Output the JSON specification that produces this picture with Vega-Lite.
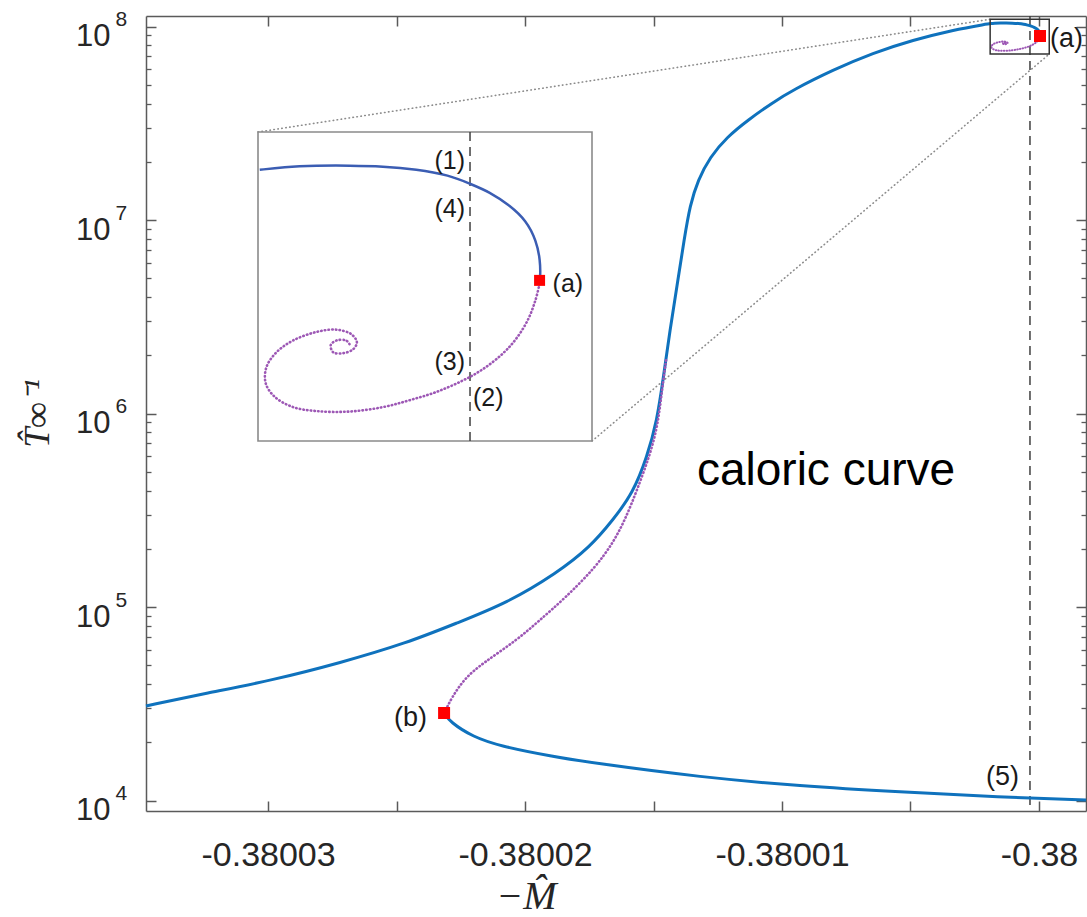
{
  "$schema": "https://vega.github.io/schema/vega-lite/v6.json",
  "width": 940,
  "height": 795,
  "autosize": {"type": "none"},
  "padding": {"left": 146, "top": 16, "right": 1, "bottom": 106},
  "background": "white",
  "config": {"view": {"stroke": null}, "font": "Liberation Sans"},
  "datasets": {
    "curves": [
      {"branch":"stable","i":0,"M":-0.38003475,"T":30800},
      {"branch":"stable","i":1,"M":-0.38003237,"T":35900},
      {"branch":"stable","i":2,"M":-0.38002981,"T":41900},
      {"branch":"stable","i":3,"M":-0.3800272,"T":51400},
      {"branch":"stable","i":4,"M":-0.38002459,"T":65200},
      {"branch":"stable","i":5,"M":-0.38002265,"T":82700},
      {"branch":"stable","i":6,"M":-0.3800207,"T":104900},
      {"branch":"stable","i":7,"M":-0.38001876,"T":149800},
      {"branch":"stable","i":8,"M":-0.38001747,"T":204000},
      {"branch":"stable","i":9,"M":-0.38001658,"T":281600},
      {"branch":"stable","i":10,"M":-0.3800158,"T":388000},
      {"branch":"stable","i":11,"M":-0.38001525,"T":596000},
      {"branch":"stable","i":12,"M":-0.38001486,"T":926000},
      {"branch":"stable","i":13,"M":-0.38001463,"T":1490000},
      {"branch":"stable","i":14,"M":-0.38001436,"T":2700000},
      {"branch":"stable","i":15,"M":-0.38001405,"T":4900000},
      {"branch":"stable","i":16,"M":-0.38001381,"T":7880000},
      {"branch":"stable","i":17,"M":-0.38001358,"T":11960000},
      {"branch":"stable","i":18,"M":-0.38001327,"T":16090000},
      {"branch":"stable","i":19,"M":-0.3800128,"T":21170000},
      {"branch":"stable","i":20,"M":-0.38001214,"T":26850000},
      {"branch":"stable","i":21,"M":-0.38001132,"T":32880000},
      {"branch":"stable","i":22,"M":-0.38001039,"T":40240000},
      {"branch":"stable","i":23,"M":-0.38000957,"T":47000000},
      {"branch":"stable","i":24,"M":-0.38000802,"T":59600000},
      {"branch":"stable","i":25,"M":-0.38000646,"T":73000000},
      {"branch":"stable","i":26,"M":-0.3800049,"T":85100000},
      {"branch":"stable","i":27,"M":-0.38000335,"T":95900000},
      {"branch":"stable","i":28,"M":-0.38000202,"T":103000000},
      {"branch":"stable","i":29,"M":-0.380001888,"T":103600000},
      {"branch":"stable","i":30,"M":-0.380001727,"T":104000000},
      {"branch":"stable","i":31,"M":-0.380001497,"T":104200000},
      {"branch":"stable","i":32,"M":-0.38000127,"T":104200000},
      {"branch":"stable","i":33,"M":-0.38000104,"T":104100000},
      {"branch":"stable","i":34,"M":-0.38000081,"T":103700000},
      {"branch":"stable","i":35,"M":-0.38000058,"T":102850000},
      {"branch":"stable","i":36,"M":-0.380000442,"T":101700000},
      {"branch":"stable","i":37,"M":-0.380000304,"T":100570000},
      {"branch":"stable","i":38,"M":-0.380000168,"T":98790000},
      {"branch":"stable","i":39,"M":-0.380000053,"T":96800000},
      {"branch":"stable","i":40,"M":-0.379999984,"T":94230000},
      {"branch":"stable","i":41,"M":-0.379999956,"T":91760000},
      {"branch":"stable","i":42,"M":-0.379999956,"T":89730000},
      {"branch":"stable","i":43,"M":-0.379999961,"T":89320000},
      {"branch":"lower","i":0,"M":-0.38002315,"T":28330},
      {"branch":"lower","i":1,"M":-0.38002292,"T":25450},
      {"branch":"lower","i":2,"M":-0.38002202,"T":21290},
      {"branch":"lower","i":3,"M":-0.38002097,"T":19120},
      {"branch":"lower","i":4,"M":-0.38001903,"T":16980},
      {"branch":"lower","i":5,"M":-0.38001708,"T":15440},
      {"branch":"lower","i":6,"M":-0.38001319,"T":13220},
      {"branch":"lower","i":7,"M":-0.3800093,"T":11880},
      {"branch":"lower","i":8,"M":-0.38000541,"T":11060},
      {"branch":"lower","i":9,"M":-0.38000152,"T":10420},
      {"branch":"lower","i":10,"M":-0.37999817,"T":10060},
      {"branch":"unstable","i":0,"M":-0.38002315,"T":28330},
      {"branch":"unstable","i":1,"M":-0.38002284,"T":34260},
      {"branch":"unstable","i":2,"M":-0.38002234,"T":42970},
      {"branch":"unstable","i":3,"M":-0.38002163,"T":51400},
      {"branch":"unstable","i":4,"M":-0.38002031,"T":67500},
      {"branch":"unstable","i":5,"M":-0.38001942,"T":85700},
      {"branch":"unstable","i":6,"M":-0.38001844,"T":111300},
      {"branch":"unstable","i":7,"M":-0.38001728,"T":159100},
      {"branch":"unstable","i":8,"M":-0.38001658,"T":214100},
      {"branch":"unstable","i":9,"M":-0.38001611,"T":281600},
      {"branch":"unstable","i":10,"M":-0.38001564,"T":402400},
      {"branch":"unstable","i":11,"M":-0.38001514,"T":610000},
      {"branch":"unstable","i":12,"M":-0.38001483,"T":872000},
      {"branch":"unstable","i":13,"M":-0.38001467,"T":1322000},
      {"branch":"unstable","i":14,"M":-0.38001451,"T":1890000},
      {"branch":"spiral","i":0,"M":-0.379999961,"T":88900000},
      {"branch":"spiral","i":1,"M":-0.379999989,"T":87000000},
      {"branch":"spiral","i":2,"M":-0.380000042,"T":84700000},
      {"branch":"spiral","i":3,"M":-0.380000122,"T":82600000},
      {"branch":"spiral","i":4,"M":-0.380000212,"T":81000000},
      {"branch":"spiral","i":5,"M":-0.38000035,"T":79300000},
      {"branch":"spiral","i":6,"M":-0.380000488,"T":78100000},
      {"branch":"spiral","i":7,"M":-0.380000672,"T":76900000},
      {"branch":"spiral","i":8,"M":-0.380000856,"T":76050000},
      {"branch":"spiral","i":9,"M":-0.38000104,"T":75350000},
      {"branch":"spiral","i":10,"M":-0.38000127,"T":74900000},
      {"branch":"spiral","i":11,"M":-0.380001497,"T":74950000},
      {"branch":"spiral","i":12,"M":-0.380001658,"T":75350000},
      {"branch":"spiral","i":13,"M":-0.380001785,"T":76400000},
      {"branch":"spiral","i":14,"M":-0.380001847,"T":77800000},
      {"branch":"spiral","i":15,"M":-0.380001842,"T":79500000},
      {"branch":"spiral","i":16,"M":-0.380001773,"T":81100000},
      {"branch":"spiral","i":17,"M":-0.380001658,"T":82400000},
      {"branch":"spiral","i":18,"M":-0.380001497,"T":83350000},
      {"branch":"spiral","i":19,"M":-0.380001359,"T":83600000},
      {"branch":"spiral","i":20,"M":-0.380001258,"T":83100000},
      {"branch":"spiral","i":21,"M":-0.380001219,"T":82200000},
      {"branch":"spiral","i":22,"M":-0.380001247,"T":81400000},
      {"branch":"spiral","i":23,"M":-0.380001316,"T":81000000},
      {"branch":"spiral","i":24,"M":-0.380001382,"T":81100000},
      {"branch":"spiral","i":25,"M":-0.380001399,"T":81900000},
      {"branch":"spiral","i":26,"M":-0.380001359,"T":82400000},
      {"branch":"spiral","i":27,"M":-0.380001293,"T":82400000},
      {"branch":"spiral","i":28,"M":-0.38000127,"T":82000000}
    ],
    "points": [
      {"label":"(a)","M":-0.379999961,"T":89320000},
      {"label":"(b)","M":-0.38002315,"T":28330}
    ],
    "box": [
      {"M":-0.3800019,"M2":-0.3799996,"T":72000000,"T2":109000000}
    ],
    "connectors": [
      {"conn":1,"M":-0.38003039,"T":28500000},
      {"conn":1,"M":-0.3800019,"T":109000000},
      {"conn":2,"M":-0.38001739,"T":721000},
      {"conn":2,"M":-0.3799996,"T":72000000}
    ]
  },
  "layer": [
    {
      "resolve": {"axis": {"x": "independent", "y": "independent"}},
      "layer": [
        {
          "data": {"values": [{"M": -0.38000035}]},
          "mark": {"type": "rule", "color": "#404040", "strokeWidth": 1.5, "strokeDash": [9, 6]},
          "encoding": {
            "x": {"field": "M", "type": "quantitative", "scale": {"domain": [-0.38003475, -0.37999817], "nice": false, "zero": false}, "axis": null}
          }
        },
        {
          "data": {"name": "connectors"},
          "mark": {"type": "line", "color": "#8c8c8c", "strokeWidth": 1.6, "strokeDash": [0.5, 3.5], "strokeCap": "round"},
          "encoding": {
            "x": {"field": "M", "type": "quantitative", "scale": {"domain": [-0.38003475, -0.37999817], "nice": false, "zero": false}, "axis": null},
            "y": {"field": "T", "type": "quantitative", "scale": {"type": "log", "domain": [8826, 113320000], "nice": false},
              "axis": {"orient": "left", "values": [10000, 100000, 1000000, 10000000, 100000000], "ticks": false, "domain": false, "grid": false,
                "labelExpr": "'10'", "labelFont": "Liberation Sans", "labelFontSize": 31, "labelColor": "#262626", "labelPadding": 36, "labelOffset": 10, "labelOverlap": false,
                "title": "T̂∞⁻¹", "titleFont": "Liberation Serif", "titleFontStyle": "italic", "titleFontWeight": "normal", "titleFontSize": 36, "titleColor": "#262626",
                "titleX": -109, "titleY": 397, "titleAngle": 270, "titleAlign": "center", "titleBaseline": "middle"}},
            "detail": {"field": "conn", "type": "nominal"}
          }
        },
        {
          "data": {"name": "curves"},
          "transform": [{"filter": "datum.branch === 'stable'"}],
          "mark": {"type": "line", "color": "#0f72bd", "strokeWidth": 3, "interpolate": "basis"},
          "encoding": {
            "x": {"field": "M", "type": "quantitative", "scale": {"domain": [-0.38003475, -0.37999817], "nice": false, "zero": false},
              "axis": {"orient": "bottom", "values": [-0.38003, -0.380025, -0.38002, -0.380015, -0.38001, -0.380005, -0.38], "labels": false, "tickSize": -10, "tickWidth": 1.5, "tickColor": "#5a5a5a", "domainColor": "#5a5a5a", "domainWidth": 1.5, "grid": false, "title": null}},
            "y": {"field": "T", "type": "quantitative", "scale": {"type": "log", "domain": [8826, 113320000], "nice": false},
              "axis": {"orient": "left", "values": [10000, 100000, 1000000, 10000000, 100000000], "labels": false, "tickSize": -10, "tickWidth": 1.5, "tickColor": "#5a5a5a", "domainColor": "#5a5a5a", "domainWidth": 1.5, "grid": false, "title": null}},
            "order": {"field": "i", "type": "quantitative"}
          }
        },
        {
          "data": {"name": "curves"},
          "transform": [{"filter": "datum.branch === 'lower'"}],
          "mark": {"type": "line", "color": "#0f72bd", "strokeWidth": 3, "interpolate": "basis"},
          "encoding": {
            "x": {"field": "M", "type": "quantitative", "scale": {"domain": [-0.38003475, -0.37999817], "nice": false, "zero": false},
              "axis": {"orient": "top", "values": [-0.38003, -0.380025, -0.38002, -0.380015, -0.38001, -0.380005, -0.38], "labels": false, "tickSize": -10, "tickWidth": 1.5, "tickColor": "#5a5a5a", "domainColor": "#5a5a5a", "domainWidth": 1.5, "grid": false, "title": null}},
            "y": {"field": "T", "type": "quantitative", "scale": {"type": "log", "domain": [8826, 113320000], "nice": false},
              "axis": {"orient": "right", "values": [10000, 100000, 1000000, 10000000, 100000000], "labels": false, "tickSize": -10, "tickWidth": 1.5, "tickColor": "#5a5a5a", "domainColor": "#5a5a5a", "domainWidth": 1.5, "grid": false, "title": null}},
            "order": {"field": "i", "type": "quantitative"}
          }
        },
        {
          "data": {"name": "curves"},
          "transform": [{"filter": "datum.branch === 'unstable'"}],
          "mark": {"type": "line", "color": "#9d58b5", "strokeWidth": 2.6, "strokeDash": [0.5, 3.2], "strokeCap": "round", "interpolate": "basis"},
          "encoding": {
            "x": {"field": "M", "type": "quantitative", "scale": {"domain": [-0.38003475, -0.37999817], "nice": false, "zero": false},
              "axis": {"orient": "bottom", "values": [-0.38003, -0.38002, -0.38001, -0.38], "ticks": false, "domain": false, "grid": false,
                "labelExpr": "replace(format(datum.value, '.5~f'), '−', '-')", "labelFont": "Liberation Sans", "labelFontSize": 34, "labelColor": "#262626", "labelPadding": 27, "labelBaseline": "top", "labelFlush": false, "labelOverlap": false,
                "title": "−M̂", "titleFont": "Liberation Serif", "titleFontStyle": "italic", "titleFontWeight": "normal", "titleFontSize": 40, "titleColor": "#262626",
                "titleX": 380, "titleY": 97, "titleAlign": "center", "titleBaseline": "alphabetic"}},
            "y": {"field": "T", "type": "quantitative", "scale": {"type": "log", "domain": [8826, 113320000], "nice": false},
              "axis": {"orient": "left", "values": [20000, 30000, 40000, 50000, 60000, 70000, 80000, 90000, 200000, 300000, 400000, 500000, 600000, 700000, 800000, 900000, 2000000, 3000000, 4000000, 5000000, 6000000, 7000000, 8000000, 9000000, 20000000, 30000000, 40000000, 50000000, 60000000, 70000000, 80000000, 90000000], "labels": false, "domain": false, "tickSize": -5, "tickWidth": 1.3, "tickColor": "#5a5a5a", "grid": false, "title": null}},
            "order": {"field": "i", "type": "quantitative"}
          }
        },
        {
          "data": {"name": "curves"},
          "transform": [{"filter": "datum.branch === 'spiral'"}],
          "mark": {"type": "line", "color": "#9d58b5", "strokeWidth": 2, "strokeDash": [0.5, 2.2], "strokeCap": "round", "interpolate": "catmull-rom"},
          "encoding": {
            "x": {"field": "M", "type": "quantitative", "scale": {"domain": [-0.38003475, -0.37999817], "nice": false, "zero": false}, "axis": null},
            "y": {"field": "T", "type": "quantitative", "scale": {"type": "log", "domain": [8826, 113320000], "nice": false},
              "axis": {"orient": "right", "values": [20000, 30000, 40000, 50000, 60000, 70000, 80000, 90000, 200000, 300000, 400000, 500000, 600000, 700000, 800000, 900000, 2000000, 3000000, 4000000, 5000000, 6000000, 7000000, 8000000, 9000000, 20000000, 30000000, 40000000, 50000000, 60000000, 70000000, 80000000, 90000000], "labels": false, "domain": false, "tickSize": -5, "tickWidth": 1.3, "tickColor": "#5a5a5a", "grid": false, "title": null}},
            "order": {"field": "i", "type": "quantitative"}
          }
        },
        {
          "data": {"name": "box"},
          "mark": {"type": "rect", "fill": null, "fillOpacity": 0, "stroke": "#333333", "strokeWidth": 1.5},
          "encoding": {
            "x": {"field": "M", "type": "quantitative", "scale": {"domain": [-0.38003475, -0.37999817], "nice": false, "zero": false}, "axis": null},
            "x2": {"field": "M2"},
            "y": {"field": "T", "type": "quantitative", "scale": {"type": "log", "domain": [8826, 113320000], "nice": false}, "axis": null},
            "y2": {"field": "T2"}
          }
        },
        {
          "data": {"name": "points"},
          "mark": {"type": "point", "shape": "square", "filled": true, "color": "#ff0000", "size": 144, "opacity": 1},
          "encoding": {
            "x": {"field": "M", "type": "quantitative", "scale": {"domain": [-0.38003475, -0.37999817], "nice": false, "zero": false}, "axis": null},
            "y": {"field": "T", "type": "quantitative", "scale": {"type": "log", "domain": [8826, 113320000], "nice": false},
              "axis": {"orient": "left", "values": [10000, 100000, 1000000, 10000000, 100000000], "ticks": false, "domain": false, "grid": false,
                "labelExpr": "format(log(datum.value)/LN10, '.0f')", "labelFont": "Liberation Sans", "labelFontSize": 21, "labelColor": "#262626", "labelPadding": 31, "labelAlign": "left", "labelOffset": -7, "labelOverlap": false, "title": null}}
          }
        },
        {
          "data": {"name": "points"},
          "transform": [{"filter": "datum.label === '(a)'"}],
          "mark": {"type": "text", "align": "left", "baseline": "middle", "dx": 10, "dy": 3, "fontSize": 27, "color": "#1a1a1a", "font": "Liberation Sans"},
          "encoding": {
            "x": {"field": "M", "type": "quantitative", "scale": {"domain": [-0.38003475, -0.37999817], "nice": false, "zero": false}, "axis": null},
            "y": {"field": "T", "type": "quantitative", "scale": {"type": "log", "domain": [8826, 113320000], "nice": false}, "axis": null},
            "text": {"field": "label"}
          }
        },
        {
          "data": {"name": "points"},
          "transform": [{"filter": "datum.label === '(b)'"}],
          "mark": {"type": "text", "align": "right", "baseline": "middle", "dx": -17, "dy": 5, "fontSize": 27, "color": "#1a1a1a", "font": "Liberation Sans"},
          "encoding": {
            "x": {"field": "M", "type": "quantitative", "scale": {"domain": [-0.38003475, -0.37999817], "nice": false, "zero": false}, "axis": null},
            "y": {"field": "T", "type": "quantitative", "scale": {"type": "log", "domain": [8826, 113320000], "nice": false}, "axis": null},
            "text": {"field": "label"}
          }
        },
        {
          "data": {"values": [{"label": "(5)", "M": -0.38000035, "T": 13220}]},
          "mark": {"type": "text", "align": "right", "baseline": "middle", "dx": -11, "fontSize": 27, "color": "#1a1a1a", "font": "Liberation Sans"},
          "encoding": {
            "x": {"field": "M", "type": "quantitative", "scale": {"domain": [-0.38003475, -0.37999817], "nice": false, "zero": false}, "axis": null},
            "y": {"field": "T", "type": "quantitative", "scale": {"type": "log", "domain": [8826, 113320000], "nice": false}, "axis": null},
            "text": {"field": "label"}
          }
        },
        {
          "data": {"values": [{"label": "caloric curve", "M": -0.38001331, "T": 427000}]},
          "mark": {"type": "text", "align": "left", "baseline": "alphabetic", "fontSize": 46, "color": "#000000", "font": "Liberation Sans"},
          "encoding": {
            "x": {"field": "M", "type": "quantitative", "scale": {"domain": [-0.38003475, -0.37999817], "nice": false, "zero": false}, "axis": null},
            "y": {"field": "T", "type": "quantitative", "scale": {"type": "log", "domain": [8826, 113320000], "nice": false}, "axis": null},
            "text": {"field": "label"}
          }
        }
      ]
    },
    {
      "layer": [
        {
          "data": {"name": "box"},
          "mark": {"type": "rect", "fill": "white", "stroke": "#8a8a8a", "strokeWidth": 1.6},
          "encoding": {
            "x": {"field": "M", "type": "quantitative", "scale": {"domain": [-0.3800019, -0.3799996], "range": [112, 446], "nice": false, "zero": false}, "axis": null},
            "x2": {"field": "M2"},
            "y": {"field": "T", "type": "quantitative", "scale": {"type": "log", "domain": [72000000, 109000000], "range": [425, 116], "nice": false}, "axis": null},
            "y2": {"field": "T2"}
          }
        },
        {
          "data": {"values": [{"M": -0.38000044, "T": 72000000, "T2": 109000000}]},
          "mark": {"type": "rule", "color": "#404040", "strokeWidth": 1.5, "strokeDash": [9, 6]},
          "encoding": {
            "x": {"field": "M", "type": "quantitative", "scale": {"domain": [-0.3800019, -0.3799996], "range": [112, 446], "nice": false, "zero": false}, "axis": null},
            "y": {"field": "T", "type": "quantitative", "scale": {"type": "log", "domain": [72000000, 109000000], "range": [425, 116], "nice": false}, "axis": null},
            "y2": {"field": "T2"}
          }
        },
        {
          "data": {"name": "curves"},
          "transform": [{"filter": "datum.branch === 'stable' && datum.M >= -0.3800019"}],
          "mark": {"type": "line", "color": "#3b5db3", "strokeWidth": 2.5, "interpolate": "basis"},
          "encoding": {
            "x": {"field": "M", "type": "quantitative", "scale": {"domain": [-0.3800019, -0.3799996], "range": [112, 446], "nice": false, "zero": false}, "axis": null},
            "y": {"field": "T", "type": "quantitative", "scale": {"type": "log", "domain": [72000000, 109000000], "range": [425, 116], "nice": false}, "axis": null},
            "order": {"field": "i", "type": "quantitative"}
          }
        },
        {
          "data": {"name": "curves"},
          "transform": [{"filter": "datum.branch === 'spiral'"}],
          "mark": {"type": "line", "color": "#9d58b5", "strokeWidth": 2.6, "strokeDash": [0.5, 3.2], "strokeCap": "round", "interpolate": "catmull-rom"},
          "encoding": {
            "x": {"field": "M", "type": "quantitative", "scale": {"domain": [-0.3800019, -0.3799996], "range": [112, 446], "nice": false, "zero": false}, "axis": null},
            "y": {"field": "T", "type": "quantitative", "scale": {"type": "log", "domain": [72000000, 109000000], "range": [425, 116], "nice": false}, "axis": null},
            "order": {"field": "i", "type": "quantitative"}
          }
        },
        {
          "data": {"name": "points"},
          "transform": [{"filter": "datum.label === '(a)'"}],
          "mark": {"type": "point", "shape": "square", "filled": true, "color": "#ff0000", "size": 121, "opacity": 1},
          "encoding": {
            "x": {"field": "M", "type": "quantitative", "scale": {"domain": [-0.3800019, -0.3799996], "range": [112, 446], "nice": false, "zero": false}, "axis": null},
            "y": {"field": "T", "type": "quantitative", "scale": {"type": "log", "domain": [72000000, 109000000], "range": [425, 116], "nice": false}, "axis": null}
          }
        },
        {
          "data": {"values": [
            {"label": "(1)", "M": -0.38000044, "T": 104900000},
            {"label": "(4)", "M": -0.38000044, "T": 98300000},
            {"label": "(3)", "M": -0.38000044, "T": 80100000}
          ]},
          "mark": {"type": "text", "align": "right", "baseline": "middle", "dx": -5, "fontSize": 25, "color": "#1a1a1a", "font": "Liberation Sans"},
          "encoding": {
            "x": {"field": "M", "type": "quantitative", "scale": {"domain": [-0.3800019, -0.3799996], "range": [112, 446], "nice": false, "zero": false}, "axis": null},
            "y": {"field": "T", "type": "quantitative", "scale": {"type": "log", "domain": [72000000, 109000000], "range": [425, 116], "nice": false}, "axis": null},
            "text": {"field": "label"}
          }
        },
        {
          "data": {"values": [{"label": "(2)", "M": -0.38000044, "T": 76300000}]},
          "mark": {"type": "text", "align": "left", "baseline": "middle", "dx": 3, "fontSize": 25, "color": "#1a1a1a", "font": "Liberation Sans"},
          "encoding": {
            "x": {"field": "M", "type": "quantitative", "scale": {"domain": [-0.3800019, -0.3799996], "range": [112, 446], "nice": false, "zero": false}, "axis": null},
            "y": {"field": "T", "type": "quantitative", "scale": {"type": "log", "domain": [72000000, 109000000], "range": [425, 116], "nice": false}, "axis": null},
            "text": {"field": "label"}
          }
        },
        {
          "data": {"name": "points"},
          "transform": [{"filter": "datum.label === '(a)'"}],
          "mark": {"type": "text", "align": "left", "baseline": "middle", "dx": 13, "dy": 4, "fontSize": 25, "color": "#1a1a1a", "font": "Liberation Sans"},
          "encoding": {
            "x": {"field": "M", "type": "quantitative", "scale": {"domain": [-0.3800019, -0.3799996], "range": [112, 446], "nice": false, "zero": false}, "axis": null},
            "y": {"field": "T", "type": "quantitative", "scale": {"type": "log", "domain": [72000000, 109000000], "range": [425, 116], "nice": false}, "axis": null},
            "text": {"field": "label"}
          }
        }
      ]
    }
  ],
  "resolve": {"scale": {"x": "independent", "y": "independent"}, "axis": {"x": "independent", "y": "independent"}}
}
